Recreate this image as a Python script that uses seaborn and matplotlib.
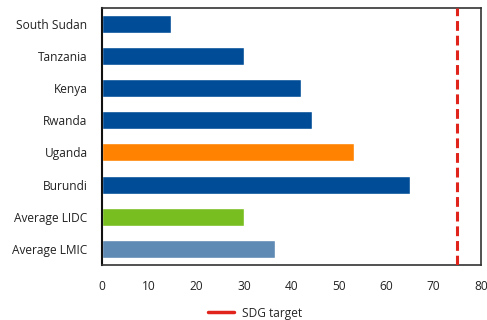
import matplotlib
matplotlib.use("Agg")
import matplotlib.pyplot as plt
import seaborn as sns
import pandas as pd
from matplotlib.lines import Line2D

countries = ["South Sudan", "Tanzania", "Kenya", "Rwanda", "Uganda",
             "Burundi", "Average LIDC", "Average LMIC"]
values = [14.7, 30.0, 42.0, 44.4, 53.3, 65.1, 30.0, 36.6]
bar_colors = ["#004C97", "#004C97", "#004C97", "#004C97", "#FF8200",
              "#004C97", "#78BE20", "#5E8AB4"]
sdg_target = 75
x_ticks = [0, 10, 20, 30, 40, 50, 60, 70, 80]

sns.set_theme(style="white")
plt.rcParams["font.family"] = ["Open Sans", "DejaVu Sans"]

df = pd.DataFrame({"country": countries, "value": values})

fig = plt.figure(figsize=(4.87, 3.2), dpi=100)
ax = fig.add_axes([101.5 / 487, 1 - 265 / 320, (481 - 101.5) / 487, (265 - 7.5) / 320])

sns.barplot(data=df, x="value", y="country", hue="country", palette=bar_colors,
            legend=False, width=0.56, ax=ax, saturation=1, orient="h")

ax.axvline(sdg_target, color="#E0241B", lw=2.2, ls=(0, (3.2, 1.6)), zorder=3)

ax.set_xlim(0, 80)
ax.set_ylim(7.5, -0.5)
ax.set_xticks(x_ticks)
ax.set_xlabel("")
ax.set_ylabel("")
ax.tick_params(axis="both", length=0, labelsize=8.6, colors="#222222")
ax.tick_params(axis="x", pad=11)
ax.tick_params(axis="y", pad=10)
for sp in ax.spines.values():
    sp.set_visible(True)
    sp.set_color("#333333")
    sp.set_linewidth(1.2)
ax.spines["left"].set_color("#111111")
ax.spines["left"].set_linewidth(1.5)

handle = Line2D([], [], color="#E0241B", lw=2.5)
fig.legend([handle], ["SDG target"], loc="center", bbox_to_anchor=(255 / 487, 1 - 313 / 320),
           frameon=False, fontsize=8.6, handlelength=2.2, handletextpad=0.6)

fig.savefig("out.png", dpi=100)
